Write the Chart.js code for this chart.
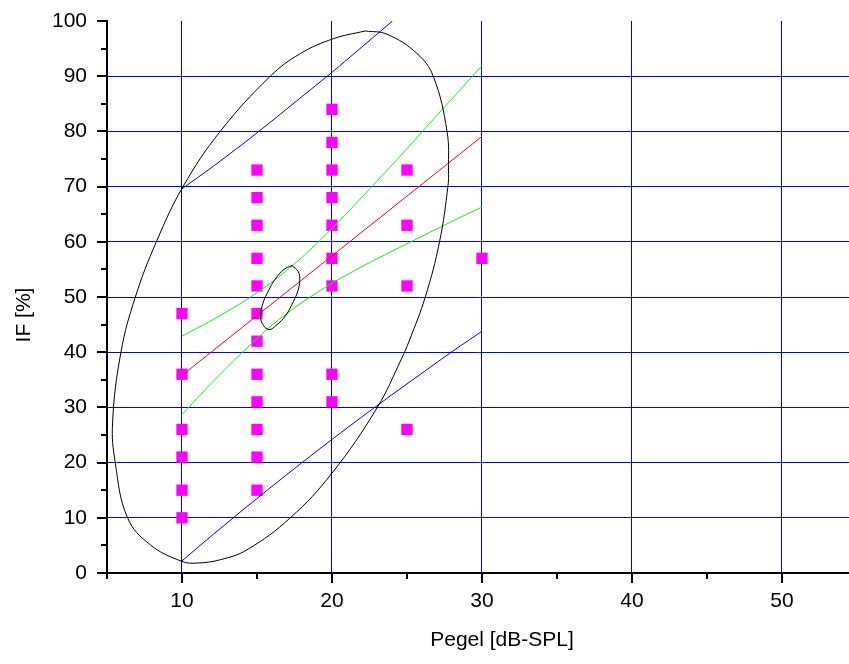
<!DOCTYPE html>
<html>
<head>
<meta charset="utf-8">
<script src="https://cdn.jsdelivr.net/npm/chart.js@4"></script>
<style>
  body { margin: 0; background: #fff; overflow: hidden; }
  #wrap { width: 849px; height: 664px; }
</style>
</head>
<body>
<div id="wrap"><canvas id="chart" width="849" height="664"></canvas></div>
<script>
// measured points: level (dB-SPL) and IF (%)
const pegel = [10, 10, 10, 10, 10, 10,
  15, 15, 15, 15, 15, 15, 15, 15, 15, 15, 15, 15,
  20, 20, 20, 20, 20, 20, 20, 20, 20,
  25, 25, 25, 25,
  30];
const ifValues = [47, 36, 26, 21, 15, 10,
  73, 68, 63, 57, 52, 47, 42, 36, 31, 26, 21, 15,
  84, 78, 73, 68, 63, 57, 52, 36, 31,
  73, 63, 52, 26,
  57];

// linear fit
const fitX = [10, 30];
const fitY = [35.8, 79.1];

// 95% confidence band of the fit
const bandX = [10, 12, 14, 16, 18, 20, 22, 24, 26, 28, 30];
const confUpper = [42.9, 45.8, 49.0, 52.7, 57.2, 62.4, 68.1, 73.9, 79.9, 85.9, 91.9];
const confLower = [28.7, 34.5, 39.9, 44.9, 49.0, 52.5, 55.5, 58.3, 61.0, 63.7, 66.3];

// 95% prediction band
const predUpperX = [10, 12, 14, 16, 18, 20, 22, 24.03];
const predUpper = [69.6, 73.5, 77.6, 81.9, 86.3, 90.7, 95.3, 100];
const predLower = [2.2, 6.8, 11.3, 15.7, 20.0, 24.2, 28.3, 32.3, 36.2, 40.1, 43.8];

// confidence ellipse of the data
const ellipseX = [22.22, 23.67, 25.67, 26.75, 27.67, 27.77, 27.73, 27.17, 26.22, 25.17, 24.6, 23.0,
  20.0, 17.22, 14.33, 12.55, 11.0, 10.0, 7.89, 6.37, 5.55, 5.37, 5.93, 6.89, 8.29, 10.07,
  12.55, 15.89, 17.89, 20.1, 22.22];
const ellipseY = [98.2, 97.6, 94.1, 90.0, 80.0, 73.0, 70.0, 60.0, 50.0, 42.2, 38.6, 29.9,
  18.1, 10.0, 4.2, 2.4, 1.8, 2.1, 5.1, 10.0, 20.0, 27.2, 40.0, 50.0, 60.0, 70.0,
  80.0, 90.0, 94.1, 96.8, 98.2];

// confidence ellipse of the mean
const meanEllipseX = [17.33, 17.75, 17.85, 17.7, 17.3, 16.9, 16.3, 15.8, 15.35, 15.25, 15.4, 15.8, 16.2, 16.8, 17.33];
const meanEllipseY = [55.7, 54.6, 53.0, 50.9, 48.5, 46.6, 44.9, 44.1, 45.2, 46.8, 48.9, 51.3, 53.2, 55.0, 55.7];

const FONT = "'Liberation Sans', Arial, sans-serif";

function pairs(xs, ys) {
  return ys.map((y, i) => ({ x: xs[i], y: y }));
}

function lineSet(xs, ys, color, tension) {
  return {
    data: pairs(xs, ys),
    showLine: true,
    borderColor: color,
    borderWidth: 1,
    pointRadius: 0,
    tension: tension,
    fill: false,
    order: 0,
  };
}

// keep the plot box fixed, labels may hang over the edges
function noEdgePadding(scale) {
  scale.paddingTop = 0;
  scale.paddingBottom = 0;
  scale.paddingLeft = 0;
  scale.paddingRight = 0;
}

// tick marks (major every 10, minor every 5) and axis titles
const axisDecor = {
  id: "axisDecor",
  afterDraw(chart) {
    const ctx = chart.ctx;
    const xs = chart.scales.x;
    const ys = chart.scales.y;
    const area = chart.chartArea;
    ctx.save();
    ctx.strokeStyle = "#000";
    ctx.lineWidth = 2;
    ys.ticks.forEach((t) => {
      if (t.value % 5 !== 0) return;
      const len = t.value % 10 === 0 ? 10 : 6;
      const py = Math.round(ys.getPixelForValue(t.value));
      ctx.beginPath();
      ctx.moveTo(area.left, py);
      ctx.lineTo(area.left - len, py);
      ctx.stroke();
    });
    xs.ticks.forEach((t) => {
      if (t.value % 5 !== 0) return;
      const len = t.value % 10 === 0 ? 10 : 6;
      const px = Math.round(xs.getPixelForValue(t.value));
      ctx.beginPath();
      ctx.moveTo(px, area.bottom);
      ctx.lineTo(px, area.bottom + len);
      ctx.stroke();
    });

    ctx.fillStyle = "#000";
    ctx.font = "21px " + FONT;
    ctx.textAlign = "center";
    ctx.textBaseline = "middle";
    ctx.fillText("Pegel [dB-SPL]", 502, 640);
    ctx.translate(24, 315);
    ctx.rotate(-Math.PI / 2);
    ctx.fillText("IF [%]", 0, 0);
    ctx.restore();
  },
};

new Chart(document.getElementById("chart"), {
  type: "scatter",
  data: {
    datasets: [
      lineSet(ellipseX, ellipseY, "#000000", 0.4),
      lineSet(meanEllipseX, meanEllipseY, "#000000", 0.4),
      lineSet(predUpperX, predUpper, "#0000ff", 0),
      lineSet(bandX, predLower, "#0000ff", 0),
      lineSet(bandX, confUpper, "#00ff00", 0.3),
      lineSet(bandX, confLower, "#00ff00", 0.3),
      lineSet(fitX, fitY, "#ff0000", 0),
      {
        data: pairs(pegel, ifValues),
        pointStyle: "rect",
        pointRadius: 8,
        pointBorderWidth: 0,
        backgroundColor: "#ff00ff",
        borderColor: "#ff00ff",
        order: 1,
      },
    ],
  },
  options: {
    responsive: false,
    animation: false,
    layout: { autoPadding: false, padding: { top: 21, right: 0, left: 0, bottom: 0 } },
    plugins: {
      legend: { display: false },
      tooltip: { enabled: false },
    },
    scales: {
      x: {
        type: "linear",
        min: 5,
        max: 54.47,
        afterFit: (scale) => { scale.height = 91; noEdgePadding(scale); },
        border: { display: true, color: "#000", width: 2 },
        grid: {
          drawTicks: false,
          lineWidth: 1,
          color: (c) => (c.tick && c.tick.value % 10 === 0 && c.tick.value >= 10 ? "#0000ff" : "rgba(0,0,0,0)"),
        },
        ticks: {
          stepSize: 5,
          includeBounds: false,
          autoSkip: false,
          maxRotation: 0,
          padding: 16,
          color: "#000",
          font: { family: FONT, size: 21 },
          callback: (v) => (v % 10 === 0 ? String(v) : ""),
        },
      },
      y: {
        type: "linear",
        min: 0,
        max: 100,
        afterFit: (scale) => { scale.width = 107; noEdgePadding(scale); },
        border: { display: true, color: "#000", width: 2 },
        grid: {
          drawTicks: false,
          lineWidth: 1,
          color: (c) => (c.tick && c.tick.value % 10 === 0 && c.tick.value > 0 && c.tick.value < 100 ? "#0000ff" : "rgba(0,0,0,0)"),
        },
        ticks: {
          stepSize: 5,
          autoSkip: false,
          padding: 20,
          color: "#000",
          font: { family: FONT, size: 21 },
          callback: (v) => (v % 10 === 0 ? String(v) : ""),
        },
      },
    },
  },
  plugins: [axisDecor],
});
</script>
</body>
</html>
